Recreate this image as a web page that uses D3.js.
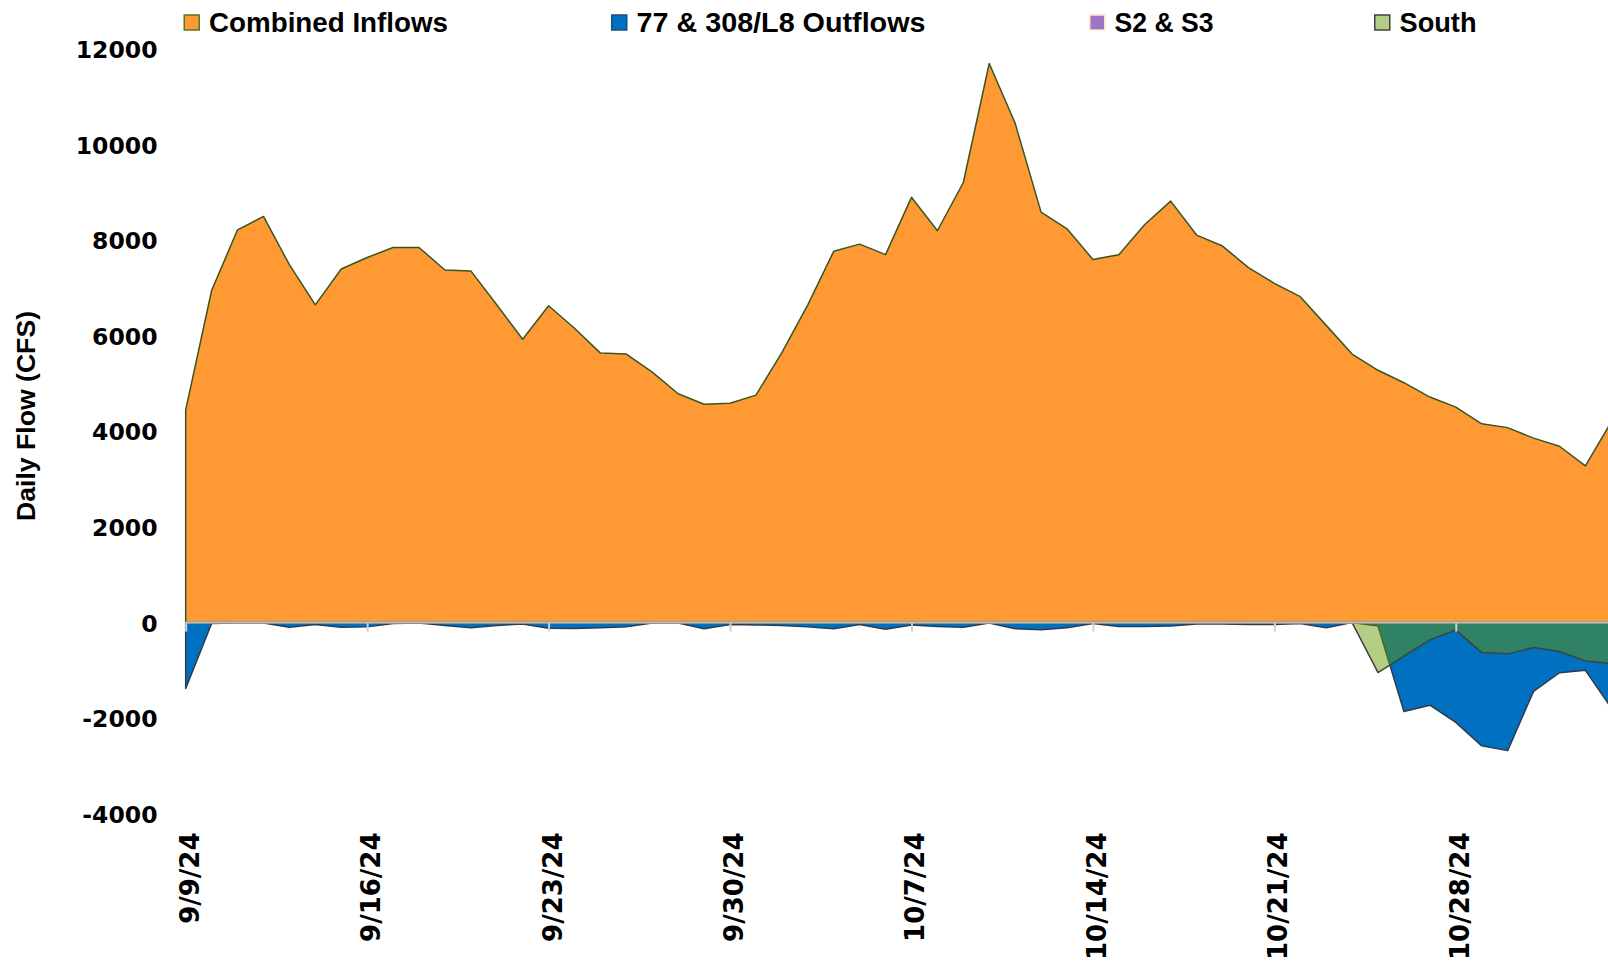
<!DOCTYPE html>
<html lang="en">
<head>
<meta charset="utf-8">
<title>Daily Flow</title>
<script src="https://d3js.org/d3.v7.min.js"></script>
<style>
	body { margin: 0; background: #fff; }
	svg { display: block; }
	.ylab text, .xlab text {
		font-family: "DejaVu Sans", Verdana, sans-serif;
		font-weight: bold;
		fill: #000;
	}
	.legend text, .ytitle {
		font-family: "Liberation Sans", Arial, sans-serif;
		font-weight: bold;
		fill: #000;
	}
</style>
</head>
<body>
<script>

// ---- data ----
// one value per day, 9/9/24 .. 11/3/24
var firstDay = "9/9/24";
var lastDay = "11/3/24";

var inflows = [4450, 6950, 8220, 8500, 7490, 6650, 7400, 7640, 7850, 7850,
	7380, 7360, 6650, 5930, 6630, 6160, 5640, 5620, 5240, 4790,
	4570, 4590, 4760, 5650, 6650, 7770, 7920, 7700, 8900, 8200,
	9210, 11700, 10450, 8590, 8240, 7600, 7700, 8330, 8820, 8110,
	7880, 7430, 7100, 6820, 6220, 5620, 5280, 5020, 4720, 4510,
	4160, 4080, 3860, 3690, 3280, 4200];

var outflows77 = [-1380, -20, -10, -10, -100, -40, -100, -90, -20, -10,
	-60, -110, -60, -30, -120, -125, -110, -90, -10, -10,
	-130, -40, -50, -60, -90, -130, -40, -140, -50, -80,
	-100, -10, -130, -150, -110, -20, -80, -80, -70, -30,
	-30, -40, -40, -20, -110, 0, -70, -1860, -1730, -2090,
	-2580, -2680, -1440, -1050, -1000, -1790];

var s2s3 = [0, 0, 0, 0, 0, 0, 0, 0, 0, 0, 0, 0, 0, 0, 0, 0, 0, 0, 0, 0,
	0, 0, 0, 0, 0, 0, 0, 0, 0, 0, 0, 0, 0, 0, 0, 0, 0, 0, 0, 0,
	0, 0, 0, 0, 0, 0, 0, 0, 0, 0, 0, 0, 0, 0, 0, 0];

var south = [0, 0, 0, 0, 0, 0, 0, 0, 0, 0, 0, 0, 0, 0, 0, 0, 0, 0, 0, 0,
	0, 0, 0, 0, 0, 0, 0, 0, 0, 0, 0, 0, 0, 0, 0, 0, 0, 0, 0, 0,
	0, 0, 0, 0, 0, 0, -1046, -704, -362, -153,
	-628, -655, -523, -607, -802, -858];

var seriesNames = ["Combined Inflows", "77 & 308/L8 Outflows", "S2 & S3", "South"];
var yTicks = [-4000, -2000, 0, 2000, 4000, 6000, 8000, 10000, 12000];
var xTickLabels = ["9/9/24", "9/16/24", "9/23/24", "9/30/24", "10/7/24", "10/14/24", "10/21/24", "10/28/24"];

// ---- styles / layout ----
var width = 1608;
var height = 962;
var fills = ["#FF9933", "#0070C0", "#A074C4", "rgb(99,153,0)"];
var fillOpacity = [1, 1, 1, 0.48];
var strokes = ["#375623", "#2F3B4C", "#FCE4CB", "#404040"];
var legendSwatch = ["#FF9933", "#0070C0", "#A074C4", "#B4CF85"];
var legendBorder = ["#4F7A28", "#1F4E79", "#FCE4CB", "#404040"];
var legendX = [183.5, 611, 1089, 1374];
var legendLen = [239, 289, 99, 77];

var parseDay = d3.utcParse("%m/%d/%y");
var fmtDay = d3.utcFormat("%-m/%-d/%y");
var days = d3.utcDay.range(parseDay(firstDay), d3.utcDay.offset(parseDay(lastDay), 1));
var tickDates = xTickLabels.map(parseDay);

// x: 9/9 .. 10/28 spans the 8 weekly ticks, later days run off the right edge
var xScale = d3.scaleUtc()
	.domain([tickDates[0], tickDates[tickDates.length - 1]])
	.range([185.7, 1455.8]);

var yScale = d3.scaleLinear()
	.domain([-4000, 12000])
	.range([813.7, 49.2]);

var svg = d3.select("body")
	.append("svg")
	.attr("width", width)
	.attr("height", height);

// ---- areas (overlapping, drawn in series order) ----
var area = d3.area()
	.x(function(d, i) { return xScale(days[i]); })
	.y0(yScale(0))
	.y1(function(d) { return yScale(d); });

var allSeries = [inflows, outflows77, s2s3, south];

svg.append("g")
	.selectAll("path")
	.data(allSeries)
	.enter()
	.append("path")
	.attr("d", area)
	.attr("fill", function(d, i) { return fills[i]; })
	.attr("fill-opacity", function(d, i) { return fillOpacity[i]; })
	.attr("stroke", function(d, i) { return strokes[i]; })
	.attr("stroke-width", 1.5)
	.attr("stroke-linejoin", "round");

// ---- x axis line + tick marks at zero ----
var xAxis = d3.axisBottom(xScale)
	.tickValues(tickDates)
	.tickSize(9)
	.tickSizeOuter(0)
	.tickFormat("");

var xg = svg.append("g")
	.attr("transform", "translate(0," + yScale(0) + ")")
	.call(xAxis);
xg.select(".domain").remove();
xg.selectAll(".tick line")
	.attr("stroke", "#D0D0D0")
	.attr("stroke-width", 2);

svg.append("line")
	.attr("x1", xScale(days[0]))
	.attr("x2", width)
	.attr("y1", yScale(0))
	.attr("y2", yScale(0))
	.attr("stroke", "#BFBFBF")
	.attr("stroke-width", 2);

// ---- x tick labels (rotated) ----
var xLab = d3.axisBottom(xScale)
	.tickValues(tickDates)
	.tickSize(0)
	.tickFormat(fmtDay);

var xl = svg.append("g")
	.attr("class", "xlab")
	.attr("transform", "translate(0,832.5)")
	.call(xLab);
xl.select(".domain").remove();
xl.selectAll("text")
	.attr("x", 0)
	.attr("y", 12.5)
	.attr("dy", null)
	.attr("transform", "rotate(-90)")
	.style("text-anchor", "end")
	.style("font-size", "26px");

// ---- y tick labels (plain hyphen for negatives) ----
var yAxis = d3.axisLeft(yScale)
	.tickValues(yTicks)
	.tickSize(0)
	.tickPadding(0)
	.tickFormat(function(d) { return String(d); });

var yg = svg.append("g")
	.attr("class", "ylab")
	.attr("transform", "translate(157.5,0)")
	.call(yAxis);
yg.select(".domain").remove();
yg.selectAll("text")
	.attr("dy", "0.36em")
	.style("font-size", "23.5px");

// y axis title
svg.append("text")
	.attr("class", "ytitle")
	.attr("transform", "translate(35,416) rotate(-90)")
	.attr("text-anchor", "middle")
	.attr("textLength", 210)
	.attr("lengthAdjust", "spacingAndGlyphs")
	.style("font-size", "26px")
	.text("Daily Flow (CFS)");

// ---- legend ----
var legend = svg.append("g")
	.attr("class", "legend")
	.selectAll("g")
	.data(seriesNames)
	.enter()
	.append("g")
	.attr("transform", function(d, i) { return "translate(" + legendX[i] + ",0)"; });

legend.append("rect")
	.attr("x", 0.75)
	.attr("y", 15)
	.attr("width", 15)
	.attr("height", 15)
	.attr("fill", function(d, i) { return legendSwatch[i]; })
	.attr("stroke", function(d, i) { return legendBorder[i]; })
	.attr("stroke-width", 1.5);

legend.append("text")
	.attr("x", 25.5)
	.attr("y", 32)
	.attr("textLength", function(d, i) { return legendLen[i]; })
	.attr("lengthAdjust", "spacingAndGlyphs")
	.style("font-size", "27px")
	.text(function(d) { return d; });

</script>
</body>
</html>
